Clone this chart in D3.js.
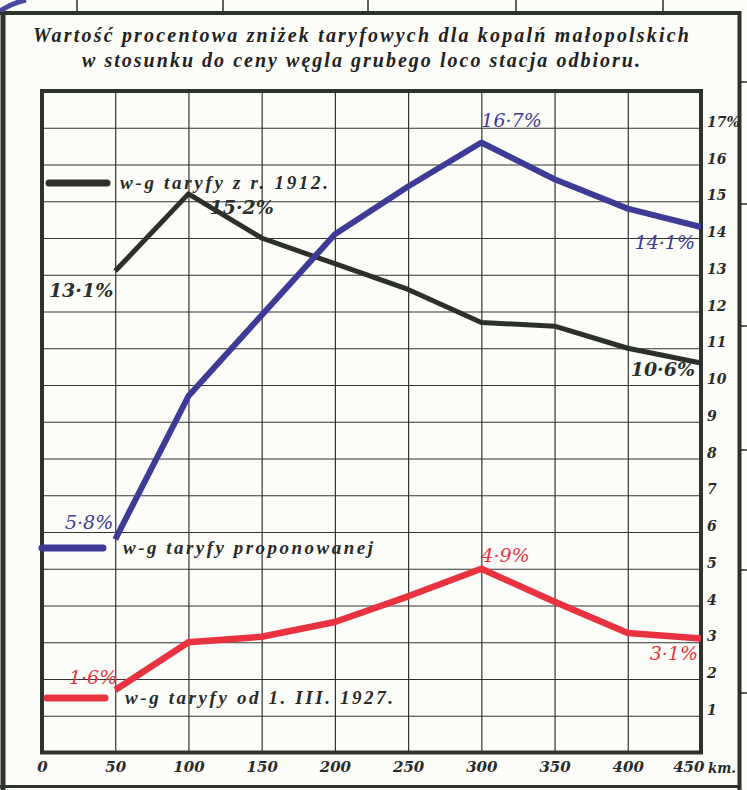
<!DOCTYPE html>
<html>
<head>
<meta charset="utf-8">
<script src="https://cdn.jsdelivr.net/npm/d3@7"></script>
<style>
  body { margin: 0; background: #fcfcf8; }
  svg { display: block; }
</style>
</head>
<body>
<div class="chart"></div>
<script>
// odleglosc w km
var distances = [50, 100, 150, 200, 250, 300, 350, 400, 450];

// wartosc procentowa znizek
var tariff1912 = [13.1, 15.2, 14.0, 13.3, 12.6, 11.7, 11.6, 11.0, 10.6];
var tariffProposed = [5.8, 9.7, 11.9, 14.1, 15.4, 16.6, 15.6, 14.8, 14.3];
var tariff1927 = [1.7, 3.0, 3.15, 3.55, 4.25, 5.0, 4.1, 3.25, 3.1];

var xTicks = [0, 50, 100, 150, 200, 250, 300, 350, 400, 450];
var yTicks = [1, 2, 3, 4, 5, 6, 7, 8, 9, 10, 11, 12, 13, 14, 15, 16, 17];

var seriesNames = ["w-g taryfy z r. 1912.", "w-g taryfy proponowanej", "w-g taryfy od 1. III. 1927."];
var seriesColors = ["#2c302c", "#3e3b97", "#e9323f"];

var titleLines = [
  "Wartość procentowa zniżek taryfowych dla kopalń małopolskich",
  "w stosunku do ceny węgla grubego loco stacja odbioru."
];

// podpisy wartosci: [seria, km, tekst]
var valueLabels = [
  [0, 50, "13·1%"], [0, 100, "15·2%"], [0, 450, "10·6%"],
  [1, 50, "5·8%"], [1, 300, "16·7%"], [1, 450, "14·1%"],
  [2, 50, "1·6%"], [2, 300, "4·9%"], [2, 450, "3·1%"]
];

document.addEventListener("DOMContentLoaded", draw)

function draw() {
  var width = 747,
    height = 790,
    ink = "#2c322c",
    serif = "DejaVu Serif",
    times = "Liberation Serif";

  var svg = d3.select(".chart").append("svg")
    .attr("width", width)
    .attr("height", height)

  var x = d3.scaleLinear().domain([0, 450]).range([42, 701]),
    y = d3.scaleLinear().domain([0, 18]).range([752.5, 91]);

  var allSeries = [tariff1912, tariffProposed, tariff1927];

  // ramka strony
  var frame = svg.append("g").attr("stroke", ink).attr("fill", "none")
  frame.append("line").attr("x1", 0).attr("x2", 741).attr("y1", 13).attr("y2", 13).attr("stroke-width", 4)
  frame.append("line").attr("x1", 3).attr("x2", 3).attr("y1", 11).attr("y2", 790).attr("stroke-width", 5)
  frame.append("line").attr("x1", 739.5).attr("x2", 739.5).attr("y1", 11).attr("y2", 790).attr("stroke-width", 4)
  frame.append("line").attr("x1", 0).attr("x2", 741).attr("y1", 786.5).attr("y2", 786.5).attr("stroke-width", 3)
  frame.selectAll(".tt").data([77, 223, 368, 516, 663]).enter().append("line")
    .attr("x1", d => d).attr("x2", d => d).attr("y1", 0).attr("y2", 12).attr("stroke-width", 1.5)
  frame.selectAll(".rt").data([82, 204, 326, 450, 570, 693]).enter().append("line")
    .attr("x1", 741).attr("x2", 747).attr("y1", d => d).attr("y2", d => d).attr("stroke-width", 1.5)
  svg.append("path").attr("d", "M0,11 Q12,3 26,0").attr("stroke", "#4a48a0")
    .attr("stroke-width", 5).attr("fill", "none")

  // tytul
  svg.append("g").selectAll("text").data(titleLines).enter().append("text")
    .attr("x", 361)
    .attr("y", (d, i) => 42 + i * 25)
    .attr("text-anchor", "middle")
    .attr("textLength", (d, i) => i ? 558 : 656)
    .attr("lengthAdjust", "spacing")
    .attr("font-family", times)
    .attr("font-style", "italic")
    .attr("font-weight", "bold")
    .attr("font-size", 20)
    .attr("fill", "#222")
    .text(d => d)

  // siatka
  svg.append("g")
    .attr("transform", `translate(0,${y(0)})`)
    .call(d3.axisBottom(x).tickValues(xTicks.slice(1, -1)).tickSize(-(y(0) - y(18))).tickFormat(""))
    .call(g => g.select(".domain").remove())
    .selectAll("line").attr("stroke", "#333").attr("stroke-width", 1.2)

  svg.append("g")
    .attr("transform", `translate(${x(450)},0)`)
    .call(d3.axisRight(y).tickValues(yTicks).tickSize(-(x(450) - x(0))).tickFormat(""))
    .call(g => g.select(".domain").remove())
    .selectAll("line").attr("stroke", "#333").attr("stroke-width", 1.2)

  // osie
  svg.append("rect")
    .attr("x", x(0)).attr("y", y(18))
    .attr("width", x(450) - x(0)).attr("height", y(0) - y(18))
    .attr("fill", "none").attr("stroke", ink).attr("stroke-width", 4)

  var xAxis = svg.append("g")
    .attr("transform", `translate(0,${y(0)})`)
    .call(d3.axisBottom(x).tickValues(xTicks).tickSize(0).tickPadding(9))
  xAxis.select(".domain").remove()
  xAxis.selectAll("text")
    .attr("font-family", serif).attr("font-style", "italic").attr("font-weight", "bold")
    .attr("font-size", 15).attr("fill", "#2a2a2a")
    .filter(d => d === 450).attr("text-anchor", "end").attr("x", 3)
  svg.append("text")
    .attr("x", 708).attr("y", y(0) + 20)
    .attr("textLength", 28)
    .attr("lengthAdjust", "spacingAndGlyphs")
    .attr("font-family", serif).attr("font-style", "italic").attr("font-weight", "bold")
    .attr("font-size", 15).attr("fill", "#2a2a2a")
    .text("km.")

  var yAxis = svg.append("g")
    .attr("transform", `translate(${x(450)},0)`)
    .call(d3.axisRight(y).tickValues(yTicks).tickSize(0).tickPadding(6)
      .tickFormat(d => d === 17 ? "17%" : d))
  yAxis.select(".domain").remove()
  yAxis.selectAll("text")
    .attr("dy", "-0.1em")
    .attr("font-family", serif).attr("font-style", "italic").attr("font-weight", "bold")
    .attr("font-size", 14).attr("fill", "#2a2a2a")

  // linie
  var line = d3.line()
    .x((d, i) => x(distances[i]))
    .y(d => y(d))

  svg.append("g").selectAll("path")
    .data(allSeries)
    .enter().append("path")
    .attr("d", line)
    .attr("fill", "none")
    .attr("stroke", (d, i) => seriesColors[i])
    .attr("stroke-width", (d, i) => [5, 6, 6.5][i])
    .attr("stroke-linejoin", "round")
    .attr("stroke-linecap", "butt")

  // podpisy wartosci
  var offsets = {
    "0-50": [-2, 26, "end"], "0-100": [21, 20, "start"], "0-450": [-6, 13, "end"],
    "1-50": [-2, -10, "end"], "1-300": [0, -15, "start"], "1-450": [-6, 22, "end"],
    "2-50": [2, -6, "end"], "2-300": [0, -7, "start"], "2-450": [-3, 21, "end"]
  }

  svg.append("g").selectAll("text")
    .data(valueLabels)
    .enter().append("text")
    .attr("x", d => x(d[1]) + offsets[d[0] + "-" + d[1]][0])
    .attr("y", d => y(allSeries[d[0]][distances.indexOf(d[1])]) + offsets[d[0] + "-" + d[1]][1])
    .attr("text-anchor", d => offsets[d[0] + "-" + d[1]][2])
    .attr("font-family", serif)
    .attr("font-style", "italic")
    .attr("font-weight", d => d[0] === 0 ? "bold" : "normal")
    .attr("font-size", 19)
    .attr("fill", d => seriesColors[d[0]])
    .text(d => d[2])

  // legenda
  var legendY = [183, 548, 698],
    legendX = [[49, 107, 120, 208], [42, 103, 123, 250], [47, 105, 125, 268]];

  var legend = svg.append("g").selectAll("g")
    .data(seriesNames)
    .enter().append("g")

  legend.append("line")
    .attr("x1", (d, i) => legendX[i][0])
    .attr("x2", (d, i) => legendX[i][1])
    .attr("y1", (d, i) => legendY[i])
    .attr("y2", (d, i) => legendY[i])
    .attr("stroke", (d, i) => seriesColors[i])
    .attr("stroke-width", 7)
    .attr("stroke-linecap", "round")

  legend.append("text")
    .attr("x", (d, i) => legendX[i][2])
    .attr("y", (d, i) => legendY[i] + 6)
    .attr("textLength", (d, i) => legendX[i][3])
    .attr("lengthAdjust", "spacing")
    .attr("font-family", times)
    .attr("font-style", "italic")
    .attr("font-weight", "bold")
    .attr("font-size", 19)
    .attr("fill", "#2a2a2a")
    .text(d => d)
}
</script>
</body>
</html>
